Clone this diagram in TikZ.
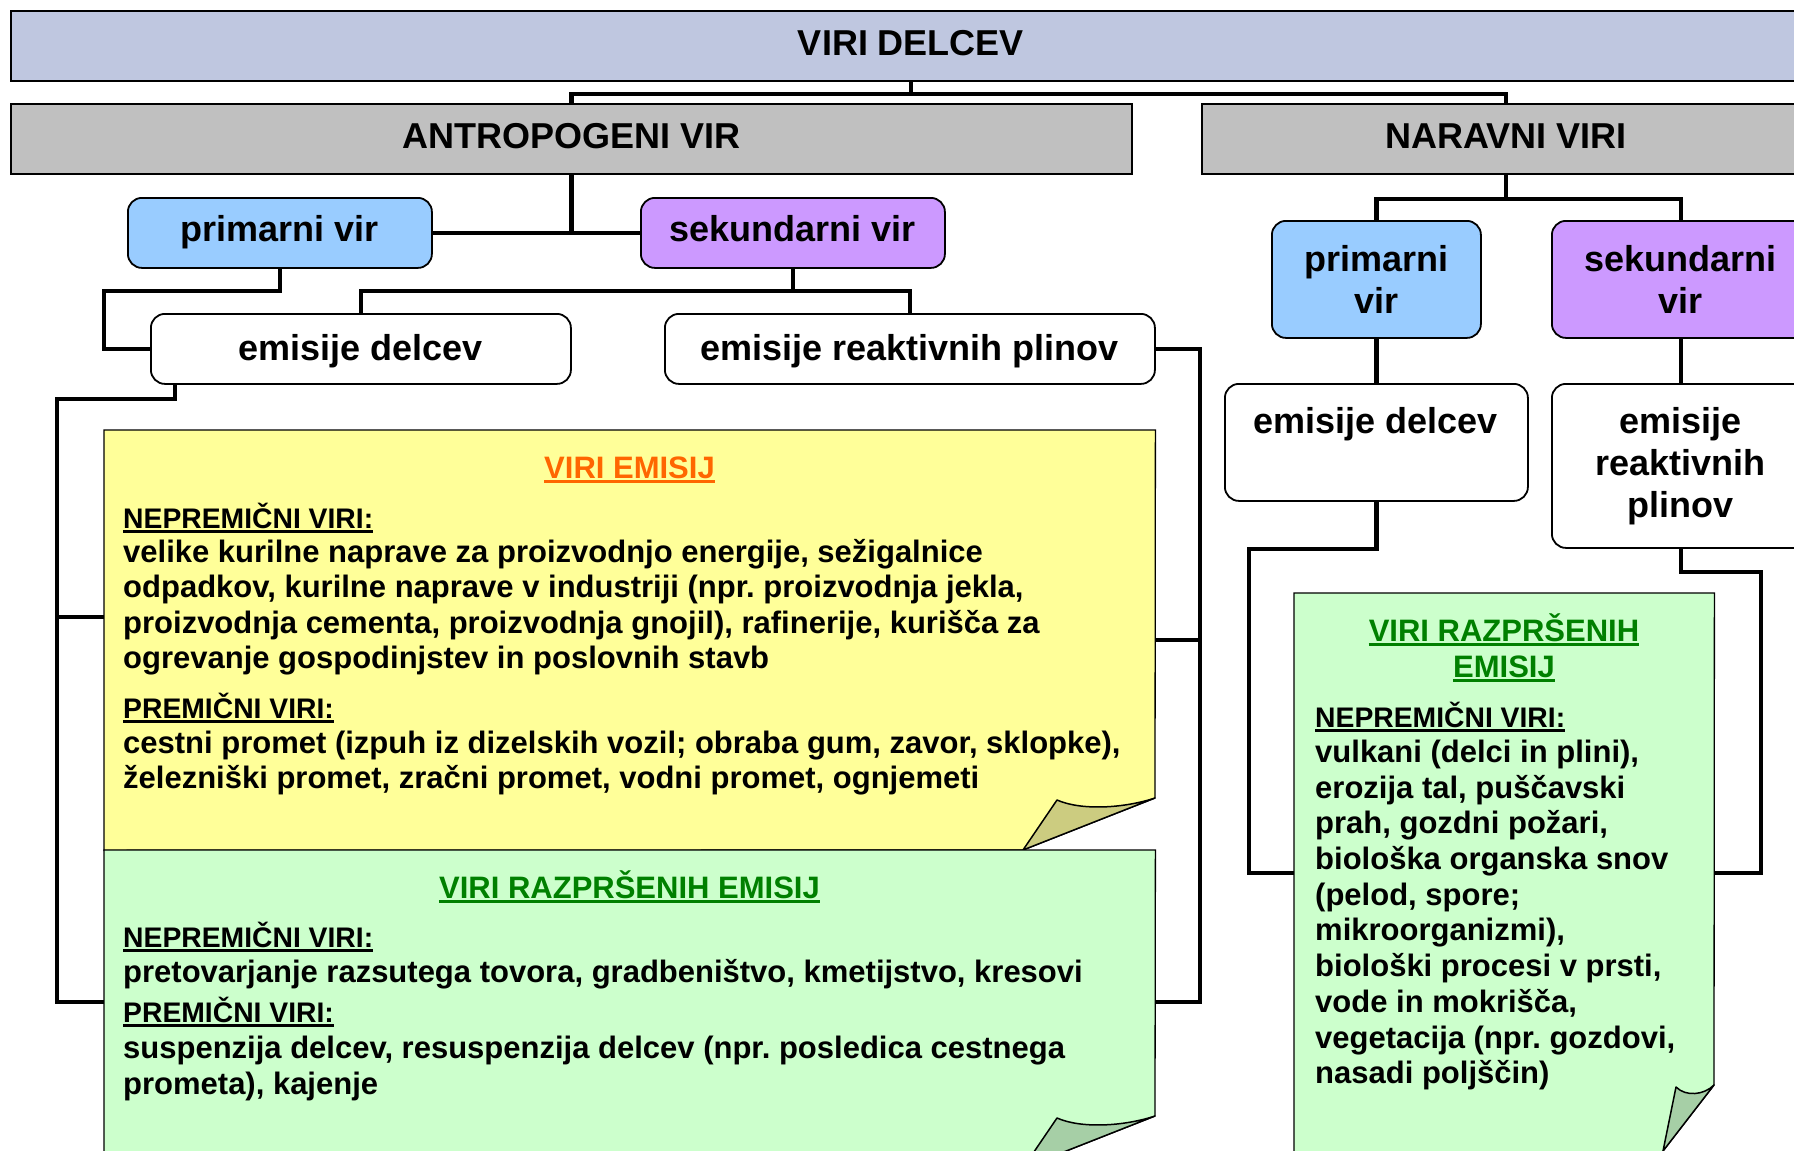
\documentclass[tikz,border=0pt]{standalone}
\usepackage{fontspec}
\setmainfont{Liberation Sans}
\frenchspacing
\definecolor{topc}{RGB}{191,199,224}
\definecolor{grayc}{RGB}{192,192,192}
\definecolor{bluec}{RGB}{153,204,255}
\definecolor{purpc}{RGB}{204,153,255}
\definecolor{yelc}{RGB}{255,255,153}
\definecolor{yflap}{RGB}{204,204,128}
\definecolor{grnc}{RGB}{204,255,204}
\definecolor{gflap}{RGB}{166,207,166}
\definecolor{orangec}{RGB}{255,102,0}
\definecolor{titleg}{RGB}{0,128,0}
\newcommand\ulnode[2]{\draw[ul,#1] ([yshift=-3.5pt]#2.base west) -- ([yshift=-3.5pt]#2.base east);}
\begin{document}
\begin{tikzpicture}[x=1pt,y=-1pt,
 conn/.style={line width=4.5pt,line join=miter},
 hbox/.style={draw=black,line width=2pt,inner sep=0pt,anchor=north west,font=\bfseries\fontsize{36}{42}\selectfont,text height=26pt,text depth=8pt},
 rbox/.style={draw=black,line width=1.8pt,rounded corners=14pt,inner sep=0pt,anchor=north west,font=\bfseries\fontsize{36}{42}\selectfont},
 one/.style={text height=26pt,text depth=8pt},
 lowone/.style={text height=29pt,text depth=5pt},
 area/.style={inner sep=0pt,anchor=north west},
 body/.style={inner sep=0pt,anchor=base west,font=\bfseries\fontsize{31}{35.6}\selectfont},
 head/.style={inner sep=0pt,anchor=base west,font=\bfseries\fontsize{28.3}{33}\selectfont},
 ttl/.style={inner sep=0pt,anchor=base,font=\bfseries\fontsize{31}{36}\selectfont},
 ul/.style={line width=2.6pt},
 paper/.style={draw=black,line width=1.3pt,line join=miter},
 flap/.style={draw=black,line width=1.5pt,line join=round}]
\useasboundingbox (0,0) rectangle (1794,1151);
\clip (0,0) rectangle (1794,1151);

% paper areas
\node[area,minimum width=1051pt,minimum height=420pt] (yel) at (104,430) {};
\node[area,minimum width=1051pt,minimum height=350pt] (grl) at (104,850) {};
\node[area,minimum width=420pt,minimum height=600pt] (grr) at (1294,593) {};

\draw[paper,fill=yelc] (yel.north west) -- (yel.north east) -- (1155,798) -- (1023,850) -- (yel.south west) -- cycle;
\draw[flap,fill=yflap] (1023,850) -- (1057,800) .. controls (1082,811) and (1125,808) .. (1155,798) -- cycle;
\draw[paper,fill=grnc] (grl.north west) -- (grl.north east) -- (1155,1116) -- (1023,1168) -- (104,1168) -- cycle;
\draw[flap,fill=gflap] (1023,1168) -- (1057,1118) .. controls (1082,1129) and (1125,1126) .. (1155,1116) -- cycle;
\draw[paper,fill=grnc] (grr.north west) -- (grr.north east) -- (1714,1085) -- (1663,1151) -- (1663,1170) -- (1294,1170) -- cycle;
\draw[flap,fill=gflap] (1663,1151) -- (1676,1087) .. controls (1686,1097) and (1704,1095) .. (1714,1085) -- cycle;

% boxes
\node[hbox,fill=topc,minimum width=1800pt,minimum height=70pt] (top) at (10,10) {VIRI DELCEV};
\node[hbox,fill=grayc,minimum width=1121pt,minimum height=70pt] (antro) at (10,103) {ANTROPOGENI VIR};
\node[hbox,fill=grayc,minimum width=608pt,minimum height=70pt] (nar) at (1201,103) {NARAVNI VIRI};
\node[rbox,one,fill=bluec,minimum width=304pt,minimum height=70pt] (prim) at (127,197) {primarni vir};
\node[rbox,one,fill=purpc,minimum width=304pt,minimum height=70pt] (sek) at (640,197) {sekundarni vir};
\node[rbox,lowone,fill=white,minimum width=420pt,minimum height=70pt] (emd) at (150,313) {emisije delcev};
\node[rbox,lowone,fill=white,minimum width=490pt,minimum height=70pt] (emr) at (664,313) {emisije reaktivnih plinov};
\node[rbox,align=center,fill=bluec,minimum width=209pt,minimum height=117pt] (pr2) at (1271,220) {primarni\\vir};
\node[rbox,align=center,fill=purpc,minimum width=258pt,minimum height=117pt] (sk2) at (1551,220) {sekundarni\\vir};
\node[rbox,fill=white,minimum width=303pt,minimum height=117pt] (ed2) at (1224,383) {};
\node[inner sep=0pt,anchor=base,font=\bfseries\fontsize{36}{42}\selectfont] (ed2t) at (1375.5,433) {emisije delcev};
\node[rbox,align=center,fill=white,minimum width=258pt,minimum height=164pt] (er2) at (1551,383) {emisije\\reaktivnih\\plinov};

% connectors
\draw[conn] (top.south) -- ++(0,12) coordinate (j1);
\draw[conn] (antro.north) |- (j1) -| (nar.north);
\draw[conn] (antro.south) -- (antro.south |- prim.east);
\draw[conn] (prim.east) -- (sek.west);
\draw[conn] (prim.south) -- ++(0,22) -| ([xshift=-46pt]emd.west) -- (emd.west);
\draw[conn] (sek.south) -- ++(0,22) coordinate (j2);
\draw[conn] (emd.north) |- (j2) -| (emr.north);
\coordinate (lb1) at (57,617);
\coordinate (lb2) at (57,1002);
\draw[conn] ([xshift=25pt]emd.south west) -- ++(0,14) -| (lb2) -- (lb2 -| grl.west);
\draw[conn] (lb1) -- (lb1 -| yel.west);
\coordinate (rb) at (1200,1002);
\draw[conn] (emr.east) -| (rb) -- (rb -| grl.east);
\draw[conn] (yel.east) -- (yel.east -| rb);
\draw[conn] (nar.south) -- ++(0,24) coordinate (j3);
\draw[conn] (pr2.north) |- (j3) -| (sk2.north);
\draw[conn] (pr2.south) -- (ed2.north);
\draw[conn] (sk2.south) -- (er2.north);
\coordinate (rl) at (1249,873);
\coordinate (rr) at (1761,873);
\draw[conn] (ed2.south) -- ++(0,47) -| (rl) -- (rl -| grr.west);
\draw[conn] (er2.south) -- ++(0,23) -| (rr) -- (rr -| grr.east);

% yellow text
\node[ttl,text=orangec] (t1) at (629.5,478) {VIRI EMISIJ};
\ulnode{orangec}{t1}
\node[head] (h1) at (123,528) {NEPREMIČNI VIRI:};
\ulnode{black}{h1}
\node[body] (b1) at (123,562) {velike kurilne naprave za proizvodnjo energije, sežigalnice};
\node[body] (b2) at (123,597.5) {odpadkov, kurilne naprave v industriji (npr. proizvodnja jekla,};
\node[body] (b3) at (123,633) {proizvodnja cementa, proizvodnja gnojil), rafinerije, kurišča za};
\node[body] (b4) at (123,668.5) {ogrevanje gospodinjstev in poslovnih stavb};
\node[head] (h2) at (123,718) {PREMIČNI VIRI:};
\ulnode{black}{h2}
\node[body] (b5) at (123,753) {cestni promet (izpuh iz dizelskih vozil; obraba gum, zavor, sklopke),};
\node[body] (b6) at (123,788.5) {železniški promet, zračni promet, vodni promet, ognjemeti};

% left green text
\node[ttl,text=titleg] (t2) at (629.5,898) {VIRI RAZPRŠENIH EMISIJ};
\ulnode{titleg}{t2}
\node[head] (h3) at (123,947) {NEPREMIČNI VIRI:};
\ulnode{black}{h3}
\node[body] (c1) at (123,982) {pretovarjanje razsutega tovora, gradbeništvo, kmetijstvo, kresovi};
\node[head] (h4) at (123,1022) {PREMIČNI VIRI:};
\ulnode{black}{h4}
\node[body] (c2) at (123,1058) {suspenzija delcev, resuspenzija delcev (npr. posledica cestnega};
\node[body] (c3) at (123,1094) {prometa), kajenje};

% right green text
\node[ttl,text=titleg] (t3) at (1504,641) {VIRI RAZPRŠENIH};
\ulnode{titleg}{t3}
\node[ttl,text=titleg] (t4) at (1504,677) {EMISIJ};
\ulnode{titleg}{t4}
\node[head] (h5) at (1315,727) {NEPREMIČNI VIRI:};
\ulnode{black}{h5}
\node[body] (d1) at (1315,762.3) {vulkani (delci in plini),};
\node[body] (d2) at (1315,798) {erozija tal, puščavski};
\node[body] (d3) at (1315,833.7) {prah, gozdni požari,};
\node[body] (d4) at (1315,869.5) {biološka organska snov};
\node[body] (d5) at (1315,905.2) {(pelod, spore;};
\node[body] (d6) at (1315,940.9) {mikroorganizmi),};
\node[body] (d7) at (1315,976.6) {biološki procesi v prsti,};
\node[body] (d8) at (1315,1012.3) {vode in mokrišča,};
\node[body] (d9) at (1315,1048) {vegetacija (npr. gozdovi,};
\node[body] (d10) at (1315,1083.8) {nasadi poljščin)};
\end{tikzpicture}
\end{document}
